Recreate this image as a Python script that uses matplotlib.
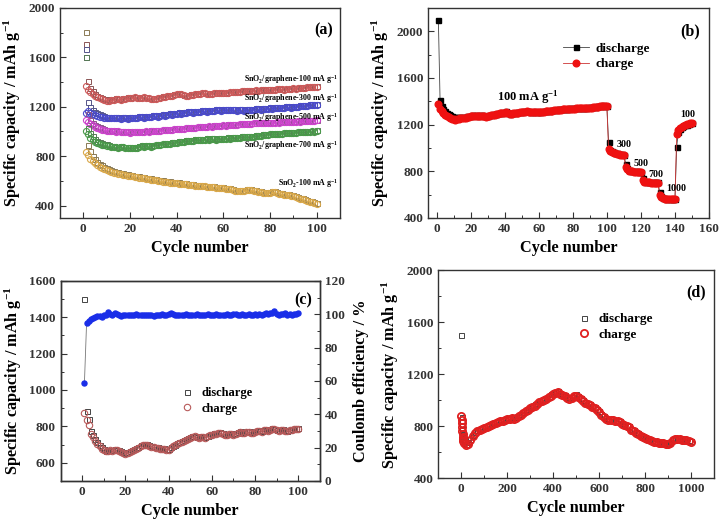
import matplotlib
matplotlib.use('Agg')
import matplotlib.pyplot as plt
from matplotlib.ticker import MultipleLocator

plt.rcParams['font.family'] = ['Liberation Serif', 'DejaVu Serif']
plt.rcParams['font.weight'] = 'bold'
plt.rcParams['axes.labelweight'] = 'bold'
plt.rcParams['mathtext.fontset'] = 'custom'
plt.rcParams['mathtext.rm'] = 'Liberation Serif:bold'
plt.rcParams['mathtext.it'] = 'Liberation Serif:bold'
plt.rcParams['mathtext.bf'] = 'Liberation Serif:bold'
plt.rcParams['mathtext.default'] = 'rm'
plt.rcParams['axes.linewidth'] = 1.0
plt.rcParams['axes.edgecolor'] = '#333333'
for ax_ in ('xtick', 'ytick'):
    plt.rcParams[ax_ + '.direction'] = 'in'
    plt.rcParams[ax_ + '.major.size'] = 4
    plt.rcParams[ax_ + '.minor.size'] = 2
    plt.rcParams[ax_ + '.major.width'] = 0.8
    plt.rcParams[ax_ + '.minor.width'] = 0.7
    plt.rcParams[ax_ + '.labelsize'] = 9.5
    plt.rcParams[ax_ + '.color'] = '#333333'

# ---------------- (a) data: cycles 1..100 ----------------
cyc_a = list(range(1, 101))
g100_charge = [1370, 1335, 1315, 1300, 1290, 1280, 1270, 1262, 1255, 1250,
               1248, 1255, 1258, 1262, 1260, 1258, 1262, 1265, 1270, 1268,
               1272, 1275, 1270, 1268, 1272, 1275, 1270, 1268, 1265, 1262,
               1265, 1268, 1272, 1278, 1282, 1285, 1288, 1290, 1295, 1300,
               1305, 1300, 1292, 1288, 1290, 1295, 1298, 1300, 1302, 1305,
               1308, 1310, 1306, 1304, 1306, 1308, 1310, 1312, 1310, 1308,
               1310, 1312, 1315, 1318, 1320, 1322, 1320, 1324, 1326, 1328,
               1326, 1328, 1330, 1332, 1330, 1334, 1336, 1335, 1337, 1338,
               1336, 1338, 1340, 1342, 1340, 1338, 1340, 1342, 1345, 1348,
               1346, 1350, 1352, 1354, 1355, 1356, 1358, 1360, 1362, 1360]
g100_discharge = [1710, 1405, 1350, 1325, 1305, 1290, 1280, 1272, 1265, 1260,
                  1256, 1262, 1265, 1268, 1266, 1264, 1268, 1270, 1275, 1273,
                  1277, 1280, 1275, 1273, 1277, 1280, 1275, 1273, 1270, 1268,
                  1270, 1273, 1277, 1283, 1287, 1290, 1293, 1295, 1300, 1305,
                  1310, 1305, 1297, 1293, 1295, 1300, 1303, 1305, 1307, 1310,
                  1312, 1314, 1310, 1308, 1310, 1312, 1314, 1316, 1314, 1312,
                  1314, 1316, 1319, 1322, 1324, 1326, 1324, 1328, 1330, 1332,
                  1330, 1332, 1334, 1336, 1334, 1338, 1340, 1339, 1341, 1342,
                  1340, 1342, 1344, 1346, 1344, 1342, 1344, 1346, 1349, 1352,
                  1350, 1354, 1356, 1358, 1359, 1360, 1362, 1364, 1366, 1364]
g300_charge = [1150, 1165, 1150, 1140, 1130, 1125, 1120, 1115, 1112, 1110,
               1108, 1112, 1105, 1110, 1108, 1104, 1110, 1106, 1102, 1108,
               1110, 1112, 1108, 1114, 1116, 1112, 1118, 1120, 1116, 1122,
               1124, 1120, 1126, 1130, 1128, 1134, 1138, 1135, 1140, 1142,
               1146, 1144, 1150, 1148, 1154, 1156, 1152, 1158, 1160, 1158,
               1162, 1164, 1160, 1166, 1168, 1164, 1170, 1172, 1168, 1174,
               1176, 1172, 1170, 1174, 1172, 1168, 1170, 1172, 1168, 1170,
               1172, 1176, 1174, 1178, 1180, 1176, 1182, 1184, 1180, 1186,
               1184, 1188, 1186, 1190, 1192, 1188, 1194, 1196, 1192, 1198,
               1200, 1196, 1202, 1204, 1206, 1208, 1210, 1212, 1214, 1212]
g300_discharge = [1665, 1240, 1195, 1170, 1155, 1145, 1138, 1130, 1125, 1120,
                  1116, 1120, 1113, 1118, 1116, 1112, 1118, 1114, 1110, 1116,
                  1118, 1120, 1116, 1122, 1124, 1120, 1126, 1128, 1124, 1130,
                  1132, 1128, 1134, 1138, 1136, 1142, 1146, 1143, 1148, 1150,
                  1154, 1152, 1158, 1156, 1162, 1164, 1160, 1166, 1168, 1166,
                  1170, 1172, 1168, 1174, 1176, 1172, 1178, 1180, 1176, 1182,
                  1184, 1180, 1178, 1182, 1180, 1176, 1178, 1180, 1176, 1178,
                  1180, 1184, 1182, 1186, 1188, 1184, 1190, 1192, 1188, 1194,
                  1192, 1196, 1194, 1198, 1200, 1196, 1202, 1204, 1200, 1206,
                  1208, 1204, 1210, 1212, 1214, 1216, 1218, 1220, 1222, 1220]
g500_charge = [1095, 1075, 1060, 1048, 1038, 1030, 1022, 1015, 1010, 1005,
               1003, 1000, 1002, 998, 1000, 996, 998, 995, 993, 990,
               994, 996, 992, 995, 998, 996, 1000, 998, 1002, 1000,
               1004, 1006, 1004, 1008, 1010, 1012, 1010, 1014, 1016, 1018,
               1020, 1018, 1022, 1024, 1026, 1024, 1028, 1030, 1032, 1034,
               1036, 1034, 1038, 1040, 1038, 1042, 1044, 1042, 1046, 1048,
               1046, 1050, 1048, 1052, 1054, 1052, 1056, 1058, 1056, 1060,
               1062, 1060, 1064, 1066, 1064, 1068, 1066, 1070, 1068, 1072,
               1070, 1072, 1074, 1072, 1076, 1074, 1078, 1076, 1080, 1078,
               1080, 1082, 1080, 1084, 1082, 1086, 1084, 1088, 1086, 1090]
g500_discharge = [1605, 1140, 1095, 1070, 1055, 1045, 1035, 1026, 1020, 1014,
                  1010, 1007, 1009, 1005, 1007, 1003, 1005, 1002, 1000, 997,
                  1000, 1002, 998, 1001, 1004, 1002, 1006, 1004, 1008, 1006,
                  1010, 1012, 1010, 1014, 1016, 1018, 1016, 1020, 1022, 1024,
                  1026, 1024, 1028, 1030, 1032, 1030, 1034, 1036, 1038, 1040,
                  1042, 1040, 1044, 1046, 1044, 1048, 1050, 1048, 1052, 1054,
                  1052, 1056, 1054, 1058, 1060, 1058, 1062, 1064, 1062, 1066,
                  1068, 1066, 1070, 1072, 1070, 1074, 1072, 1076, 1074, 1078,
                  1076, 1078, 1080, 1078, 1082, 1080, 1084, 1082, 1086, 1084,
                  1086, 1088, 1086, 1090, 1088, 1092, 1090, 1094, 1092, 1096]
g700_charge = [1000, 975, 950, 930, 915, 905, 898, 892, 888, 884,
               880, 876, 874, 870, 868, 872, 870, 866, 868, 864,
               866, 862, 868, 874, 880, 876, 884, 880, 876, 882,
               886, 890, 888, 894, 898, 896, 902, 906, 904, 910,
               912, 916, 914, 920, 924, 922, 926, 930, 928, 932,
               934, 932, 936, 934, 938, 936, 934, 938, 940, 938,
               942, 944, 942, 946, 948, 950, 948, 952, 954, 952,
               956, 958, 956, 960, 962, 966, 970, 974, 972, 976,
               978, 976, 980, 982, 980, 984, 986, 984, 988, 990,
               988, 992, 994, 992, 996, 998, 996, 1000, 998, 1002]
g700_discharge = [1600, 1030, 990, 960, 940, 925, 915, 906, 900, 895,
                  888, 884, 881, 877, 875, 879, 877, 873, 875, 871,
                  873, 869, 875, 881, 887, 883, 891, 887, 883, 889,
                  893, 897, 895, 901, 905, 903, 909, 913, 911, 917,
                  919, 923, 921, 927, 931, 929, 933, 937, 935, 939,
                  941, 939, 943, 941, 945, 943, 941, 945, 947, 945,
                  949, 951, 949, 953, 955, 957, 955, 959, 961, 959,
                  963, 965, 963, 967, 969, 973, 977, 981, 979, 983,
                  985, 983, 987, 989, 987, 991, 993, 991, 995, 997,
                  995, 999, 1001, 999, 1003, 1005, 1003, 1007, 1005, 1009]
sno2_charge = [835, 805, 780, 760, 742, 728, 715, 704, 694, 686,
               678, 672, 666, 660, 656, 652, 648, 645, 642, 640,
               636, 632, 630, 626, 624, 620, 616, 614, 610, 606,
               604, 600, 598, 594, 592, 590, 586, 584, 582, 580,
               578, 576, 574, 572, 570, 566, 564, 562, 560, 558,
               556, 554, 552, 550, 548, 546, 544, 542, 540, 538,
               536, 534, 530, 526, 520, 518, 516, 518, 520, 522,
               524, 522, 518, 514, 510, 506, 504, 502, 500, 504,
               510, 506, 500, 496, 492, 488, 484, 482, 478, 474,
               468, 462, 456, 450, 444, 438, 432, 426, 420, 414]
sno2_discharge = [1805, 890, 840, 800, 775, 755, 738, 725, 712, 702,
                  694, 686, 680, 674, 668, 664, 660, 656, 652, 650,
                  646, 642, 640, 636, 634, 630, 626, 624, 620, 616,
                  614, 610, 608, 604, 602, 600, 596, 594, 592, 590,
                  588, 586, 584, 580, 578, 574, 572, 570, 568, 566,
                  564, 562, 560, 558, 556, 554, 552, 550, 548, 546,
                  544, 542, 538, 534, 528, 526, 524, 526, 528, 530,
                  532, 530, 526, 522, 518, 514, 512, 510, 508, 512,
                  518, 514, 508, 504, 500, 496, 492, 490, 486, 482,
                  476, 470, 464, 458, 452, 446, 440, 434, 428, 420]
labels_a = ['SnO$_2$/graphene-100 mA g$^{-1}$', 'SnO$_2$/graphene-300 mA g$^{-1}$',
            'SnO$_2$/graphene-500 mA g$^{-1}$', 'SnO$_2$/graphene-700 mA g$^{-1}$',
            'SnO$_2$-100 mA g$^{-1}$']
label_y_a = [1423, 1263, 1114, 889, 577]

# ---------------- (b) data: cycles 1..150 ----------------
cyc_b = list(range(1, 151))
rate_charge = [1375, 1332, 1315, 1298, 1285, 1274, 1265, 1257, 1250, 1244,
               1242, 1246, 1250, 1254, 1252, 1255, 1258, 1262, 1266, 1270,
               1272, 1275, 1273, 1270, 1272, 1275, 1273, 1270, 1268, 1272,
               1275, 1278, 1282, 1286, 1290, 1292, 1295, 1298, 1300, 1302,
               1308, 1296, 1290, 1292, 1295, 1298, 1300, 1302, 1304, 1306,
               1308, 1310, 1312, 1309, 1307, 1305, 1307, 1309, 1306, 1304,
               1306, 1308, 1310, 1312, 1314, 1316, 1318, 1320, 1322, 1324,
               1325, 1326, 1328, 1330, 1331, 1332, 1333, 1334, 1335, 1336,
               1336, 1338, 1339, 1340, 1338, 1339, 1341, 1342, 1344, 1346,
               1345, 1347, 1350, 1352, 1354, 1356, 1358, 1360, 1358, 1355,
               990, 975, 965, 960, 955, 950, 946, 943, 940, 937,
               836, 815, 806, 800, 798, 796, 795, 795, 794, 794,
               722, 710, 706, 704, 704, 703, 703, 702, 702, 702,
               592, 575, 568, 564, 562, 560, 559, 558, 558, 558,
               1115, 1155, 1172, 1183, 1190, 1196, 1202, 1207, 1212, 1215]
rate_discharge = [2100, 1410, 1355, 1330, 1312, 1298, 1288, 1280, 1273, 1268,
                  1264, 1262, 1263, 1265, 1264, 1266, 1268, 1271, 1274, 1277,
                  1279, 1281, 1279, 1276, 1278, 1280, 1278, 1276, 1274, 1277,
                  1280, 1283, 1287, 1290, 1294, 1296, 1299, 1302, 1304, 1306,
                  1312, 1300, 1294, 1296, 1299, 1302, 1304, 1306, 1308, 1310,
                  1312, 1314, 1316, 1313, 1311, 1309, 1311, 1313, 1310, 1308,
                  1310, 1312, 1314, 1316, 1318, 1320, 1322, 1324, 1326, 1328,
                  1329, 1330, 1332, 1334, 1335, 1336, 1337, 1338, 1339, 1340,
                  1340, 1342, 1343, 1344, 1342, 1343, 1345, 1346, 1348, 1350,
                  1349, 1351, 1354, 1356, 1358, 1360, 1362, 1364, 1362, 1359,
                  1048, 985, 972, 966, 960, 955, 951, 947, 944, 941,
                  866, 825, 812, 805, 802, 800, 798, 798, 797, 797,
                  744, 718, 711, 708, 707, 706, 705, 705, 704, 704,
                  620, 585, 573, 568, 565, 563, 561, 560, 560, 560,
                  1008, 1140, 1165, 1178, 1186, 1193, 1199, 1204, 1209, 1212]
rate_labels = ['300', '500', '700', '1000', '100']
rate_label_x = [105.6, 115.6, 124.1, 134.7, 143.0]
rate_label_y = [1029, 866, 772, 649, 1286]

# ---------------- (c) data: cycles 1..100 ----------------
cyc_c = list(range(1, 101))
c_charge = [876, 835, 810, 760, 742, 722, 705, 690, 678, 668,
            662, 665, 668, 666, 670, 668, 664, 660, 655, 650,
            656, 660, 665, 668, 675, 682, 690, 695, 700, 698,
            692, 688, 684, 680, 682, 678, 676, 678, 672, 670,
            682, 690, 696, 702, 708, 714, 720, 724, 730, 738,
            742, 745, 740, 738, 742, 740, 738, 745, 750, 755,
            758, 760, 762, 766, 758, 754, 752, 756, 758, 754,
            760, 764, 768, 762, 766, 770, 768, 766, 764, 768,
            772, 775, 770, 778, 782, 776, 780, 786, 784, 778,
            775, 778, 782, 776, 772, 778, 780, 784, 788, 786]
c_discharge = [1500, 885, 840, 772, 750, 730, 712, 696, 684, 673,
               667, 670, 672, 671, 674, 672, 669, 665, 660, 656,
               660, 665, 670, 673, 680, 687, 695, 700, 705, 703,
               697, 693, 689, 685, 687, 683, 681, 683, 677, 675,
               686, 694, 700, 706, 712, 718, 724, 728, 734, 742,
               746, 749, 744, 742, 746, 744, 742, 749, 754, 759,
               762, 764, 766, 770, 762, 758, 756, 760, 762, 758,
               764, 768, 772, 766, 770, 774, 772, 770, 768, 772,
               776, 779, 774, 782, 786, 780, 784, 790, 788, 782,
               779, 782, 786, 780, 776, 782, 784, 788, 792, 790]
c_efficiency = [58.5, 94.5, 96.0, 97.0, 97.5, 98.5, 98.8, 99.0, 98.5, 99.8,
                99.5, 101.5, 100.0, 99.5, 100.5, 100.2, 99.8, 99.0, 99.5, 99.8,
                99.6, 99.8, 99.5, 99.7, 99.9, 99.6, 99.8, 99.5, 99.7, 99.6,
                99.8, 99.5, 99.2, 99.6, 99.8, 99.6, 99.9, 99.7, 99.8, 100.2,
                101.0, 100.3, 99.8, 99.6, 99.8, 99.5, 99.7, 99.9, 99.6, 99.8,
                99.5, 99.7, 99.9, 99.6, 99.8, 99.5, 99.7, 99.9, 99.6, 99.8,
                99.7, 99.9, 99.6, 99.8, 99.5, 99.7, 99.9, 99.6, 99.8, 99.9,
                100.3, 99.8, 99.6, 99.9, 99.5, 99.8, 100.2, 99.7, 99.6, 99.9,
                99.8, 100.1, 99.7, 100.4, 100.8, 100.2, 100.5, 101.0, 101.8, 100.0,
                99.8, 100.2, 100.0, 100.8, 99.7, 99.9, 99.6, 100.0, 100.2, 101.0]

# ---------------- (d) data: long cycling ----------------
cyc_d = [1, 2, 3, 4, 5, 6, 7, 8, 9, 10,
         20, 30, 40, 50, 60, 70, 80, 90, 100,
         110, 120, 130, 140, 150, 160, 170, 180, 190, 200,
         210, 220, 230, 240, 250, 260, 270, 280, 290, 300,
         310, 320, 330, 340, 350, 360, 370, 380, 390, 400,
         410, 420, 430, 440, 450, 460, 470, 480, 490, 500,
         510, 520, 530, 540, 550, 560, 570, 580, 590, 600,
         610, 620, 630, 640, 650, 660, 670, 680, 690, 700,
         710, 720, 730, 740, 750, 760, 770, 780, 790, 800,
         810, 820, 830, 840, 850, 860, 870, 880, 890, 900,
         910, 920, 930, 940, 950, 960, 970, 980, 990, 1000]
d_charge = [880, 850, 820, 790, 760, 735, 715, 700, 685, 670,
            655, 665, 690, 720, 745, 760, 770, 780, 788,
            795, 800, 808, 815, 825, 832, 838, 842, 848, 852,
            856, 860, 858, 862, 875, 888, 900, 912, 925, 935,
            948, 958, 968, 982, 990, 998, 1010, 1022, 1035, 1045,
            1055, 1060, 1050, 1040, 1030, 1015, 1010, 1018, 1030, 1035,
            1025, 1010, 995, 980, 970, 960, 950, 935, 920, 905,
            885, 870, 855, 848, 845, 848, 842, 835, 828, 818,
            810, 800, 790, 772, 758, 745, 735, 725, 715, 705,
            698, 690, 685, 680, 676, 672, 670, 668, 665, 662,
            672, 690, 698, 700, 698, 695, 693, 690, 688, 680]
d_discharge = [1500, 870, 840, 805, 775, 750, 728, 712, 698, 684,
               665, 675, 700, 728, 753, 768, 778, 788, 796,
               803, 808, 816, 823, 833, 840, 846, 850, 856, 860,
               864, 868, 866, 870, 883, 896, 908, 920, 933, 943,
               956, 966, 976, 990, 998, 1006, 1018, 1030, 1043, 1053,
               1063, 1068, 1058, 1048, 1038, 1023, 1018, 1026, 1038, 1043,
               1033, 1018, 1003, 988, 978, 968, 958, 943, 928, 913,
               893, 878, 863, 856, 853, 856, 850, 843, 836, 826,
               818, 808, 798, 780, 766, 753, 743, 733, 723, 713,
               706, 698, 693, 688, 684, 680, 678, 676, 673, 670,
               680, 698, 706, 708, 706, 703, 701, 698, 696, 688]

YLAB = 'Specific capacity / mAh g$^{-1}$'
XLAB = 'Cycle number'
LAB_FS = 11.7

fig = plt.figure(figsize=(7.22, 5.25), dpi=100)

# ---------------- panel (a) ----------------
axa = fig.add_axes([0.083, 0.585, 0.388, 0.400])
series = [
    (g100_charge, g100_discharge, '#cc5a5a', '#8a5555'),
    (g300_charge, g300_discharge, '#4a4acc', '#55558a'),
    (g500_charge, g500_discharge, '#cc44cc', '#8a558a'),
    (g700_charge, g700_discharge, '#4a9a4a', '#557a55'),
    (sno2_charge, sno2_discharge, '#d9a84a', '#8a7a55'),
]
for ch, dis, col, dcol in series:
    axa.plot(cyc_a, dis, ls='none', marker='s', ms=3.6, mfc='none', mec=dcol, mew=0.7)
    axa.plot(cyc_a, ch, ls='none', marker='o', ms=4.4, mfc='none', mec=col, mew=0.8)
for lab, ly in zip(labels_a, label_y_a):
    axa.text(109, ly, lab, fontsize=5.7, ha='right', va='center', fontweight='bold')
axa.set_xlim(-10, 110)
axa.set_ylim(300, 2000)
axa.xaxis.set_major_locator(MultipleLocator(20))
axa.xaxis.set_minor_locator(MultipleLocator(10))
axa.set_yticks([400, 800, 1200, 1600, 2000])
axa.yaxis.set_minor_locator(MultipleLocator(200))
axa.text(0.94, 0.895, '(a)', transform=axa.transAxes, fontsize=11.5, ha='center', va='center')

# ---------------- panel (b) ----------------
axb = fig.add_axes([0.593, 0.585, 0.389, 0.400])
axb.plot(cyc_b, rate_discharge, color='#444444', lw=0.6, marker='s', ms=3.6,
         mfc='black', mec='black', label='discharge')
axb.plot(cyc_b, rate_charge, color='#cc3333', lw=0.6, marker='o', ms=4.8,
         mfc='#ee1111', mec='#ee1111', label='charge')
axb.text(35.3, 1432, '100 mA g$^{-1}$', fontsize=9, ha='left', va='center')
for t, tx, ty in zip(rate_labels, rate_label_x, rate_label_y):
    axb.text(tx, ty, t, fontsize=7.2, ha='left', va='center')
axb.set_xlim(-5, 160)
axb.set_ylim(400, 2200)
axb.xaxis.set_major_locator(MultipleLocator(20))
axb.xaxis.set_minor_locator(MultipleLocator(10))
axb.yaxis.set_major_locator(MultipleLocator(400))
axb.yaxis.set_minor_locator(MultipleLocator(200))
axb.legend(loc='upper left', bbox_to_anchor=(0.479, 0.835), frameon=False,
           borderpad=0, borderaxespad=0, handlelength=2.0, handletextpad=0.5,
           labelspacing=0.25, prop={'size': 9.5, 'weight': 'bold'})
axb.text(0.932, 0.89, '(b)', transform=axb.transAxes, fontsize=11.5, ha='center', va='center')

# ---------------- panel (c) ----------------
axc = fig.add_axes([0.084, 0.084, 0.359, 0.381])
axc2 = axc.twinx()
axc2.plot(cyc_c, c_efficiency, color='#777777', lw=0.6, marker='o', ms=3.6,
          mfc='#1a2ee8', mec='#1a2ee8', zorder=3)
axc.plot(cyc_c, c_discharge, ls='none', marker='s', ms=3.6, mfc='none', mec='#444444',
         mew=0.7, label='discharge')
axc.plot(cyc_c, c_charge, ls='none', marker='o', ms=4.6, mfc='none', mec='#b85a5a',
         mew=0.8, label='charge')
axc.set_xlim(-10, 110)
axc.set_ylim(500, 1600)
axc.set_yticks([600, 800, 1000, 1200, 1400, 1600])
axc.yaxis.set_minor_locator(MultipleLocator(100))
axc.xaxis.set_major_locator(MultipleLocator(20))
axc.xaxis.set_minor_locator(MultipleLocator(10))
axc2.set_ylim(0, 120)
axc2.yaxis.set_major_locator(MultipleLocator(20))
axc2.yaxis.set_minor_locator(MultipleLocator(10))
axc2.set_ylabel('Coulomb efficiency / %', fontsize=LAB_FS, labelpad=6)
axc.legend(loc='upper left', bbox_to_anchor=(0.465, 0.4675), frameon=False,
           borderpad=0, borderaxespad=0, handlelength=1.0, handletextpad=0.6,
           labelspacing=0.25, prop={'size': 9, 'weight': 'bold'})
axc.text(0.934, 0.90, '(c)', transform=axc.transAxes, fontsize=11.5, ha='center', va='center')

# ---------------- panel (d) ----------------
axd = fig.add_axes([0.607, 0.0895, 0.382, 0.396])
axd.plot(cyc_d, d_discharge, ls='none', marker='s', ms=3.6, mfc='none', mec='#444444',
         mew=0.7, label='discharge')
axd.plot(cyc_d, d_charge, ls='none', marker='o', ms=5.2, mfc='none', mec='#e02020',
         mew=1.3, label='charge')
axd.set_xlim(-100, 1100)
axd.set_ylim(400, 2000)
axd.xaxis.set_major_locator(MultipleLocator(200))
axd.xaxis.set_minor_locator(MultipleLocator(100))
axd.yaxis.set_major_locator(MultipleLocator(400))
axd.yaxis.set_minor_locator(MultipleLocator(200))
axd.legend(loc='upper left', bbox_to_anchor=(0.505, 0.793), frameon=False,
           borderpad=0, borderaxespad=0, handlelength=1.0, handletextpad=0.6,
           labelspacing=0.25, prop={'size': 9.5, 'weight': 'bold'})
axd.text(0.935, 0.894, '(d)', transform=axd.transAxes, fontsize=11.5, ha='center', va='center')

for ax in (axa, axb, axc, axd):
    ax.set_xlabel(XLAB, fontsize=LAB_FS, fontweight='bold', labelpad=4)
    ax.set_ylabel(YLAB, fontsize=LAB_FS, fontweight='bold', labelpad=4)
    ax.tick_params(which='both', top=False, right=False)

fig.canvas.draw()
for ax in (axa, axb, axc, axd, axc2):
    for lab in ax.get_xticklabels() + ax.get_yticklabels():
        lab.set_fontweight('bold')

fig.savefig('out.png', dpi=100)
